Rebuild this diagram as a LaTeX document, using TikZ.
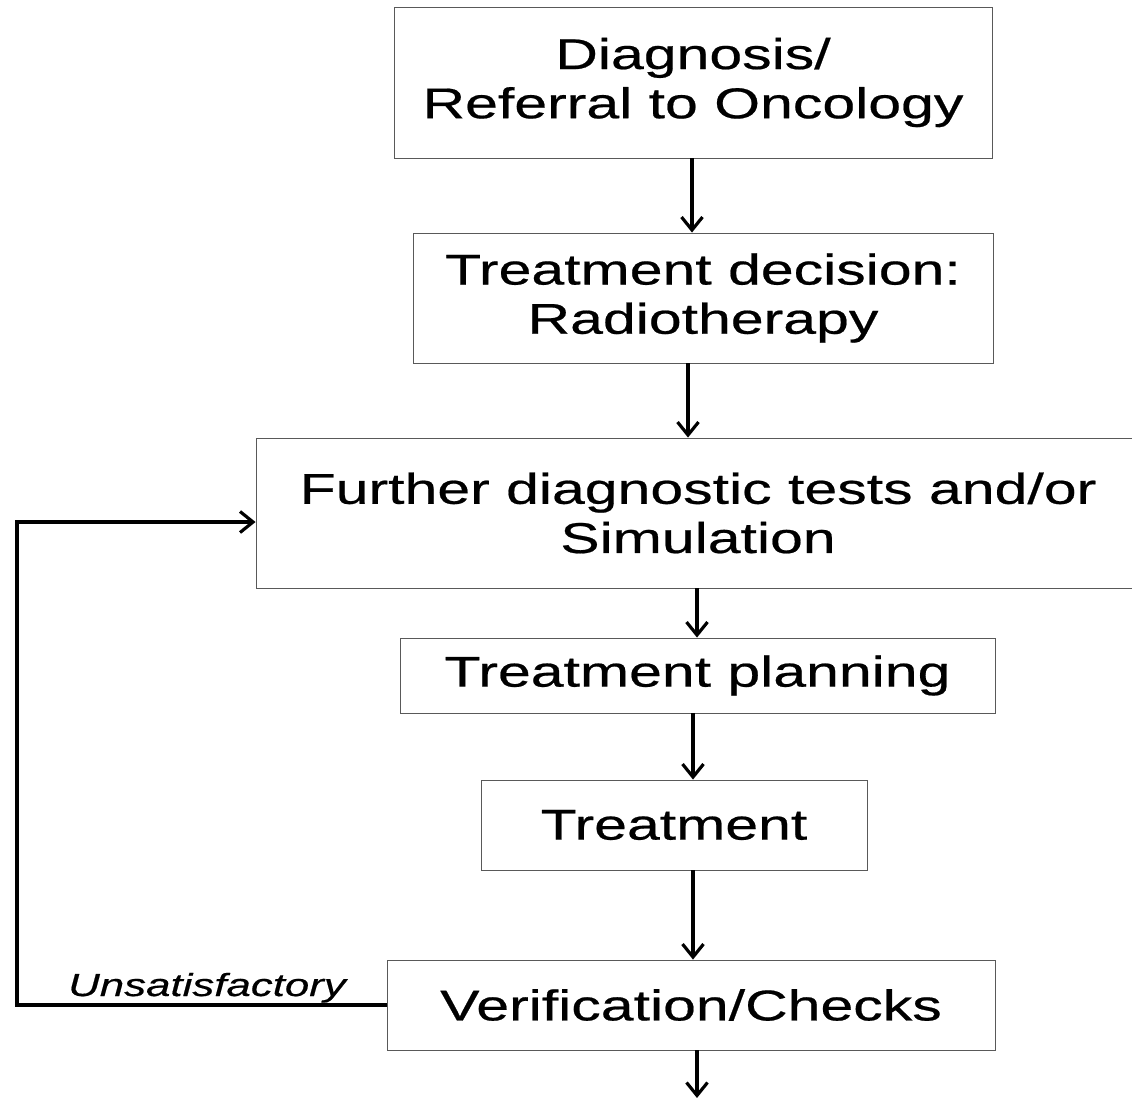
\documentclass[tikz,border=0pt]{standalone}
\usepackage{fontspec}
\setmainfont{Liberation Sans}[FakeStretch = 1.37, FakeBold = 0.5]
\usetikzlibrary{arrows.meta}

\tikzset{
	stage/.style = {draw = black!65, line width = 0.5pt, rectangle, align = center, inner sep = 0pt},
	flow/.style = {line width = 1.8pt, ->}
}

\begin{document}
\begin{tikzpicture}[> = {Straight Barb[length = 2.6mm, width = 4.2mm, line width = 1.8pt]}, font = \fontsize{24.5}{28}\selectfont]

	\useasboundingbox (0, 0) rectangle (22.64, -21.94);

	\node [stage, minimum width = 11.96cm, minimum height = 3.02cm] (diag) at (13.86, -1.65) {Diagnosis/\\Referral to Oncology};
	\node [stage, minimum width = 11.6cm, minimum height = 2.6cm] (decide) at (14.06, -5.96) {Treatment decision:\\Radiotherapy};
	\node [stage, minimum width = 17.68cm, minimum height = 3.0cm] (further) at (13.96, -10.26) {Further diagnostic tests and/or\\Simulation};
	\node [stage, minimum width = 11.9cm, minimum height = 1.5cm] (plan) at (13.95, -13.51) {Treatment planning};
	\node [stage, minimum width = 7.72cm, minimum height = 1.8cm] (treat) at (13.48, -16.5) {Treatment};
	\node [stage, minimum width = 12.16cm, minimum height = 1.8cm] (verify) at (13.82, -20.1) {Verification/Checks};

	\coordinate (loop) at (0.34, -15);
	\coordinate (out) at (13.94, -21.96);

	% main chain
	\foreach \a/\b/\x in {diag/decide/13.84, decide/further/13.76, further/plan/13.94, plan/treat/13.86, treat/verify/13.86}
		\draw [flow] (\a.south -| \x, 0) -- (\b.north -| \x, 0);

	\draw [flow] (verify.south -| out) -- (out);

	% back to simulation
	\draw [flow] (verify.west) -| (loop) |- ([yshift = -0.18cm] further.west);
	\node [anchor = base, font = \fontsize{18.2}{20}\selectfont\itshape] (unsat) at (4.14, -19.92) {Unsatisfactory};

\end{tikzpicture}
\end{document}
